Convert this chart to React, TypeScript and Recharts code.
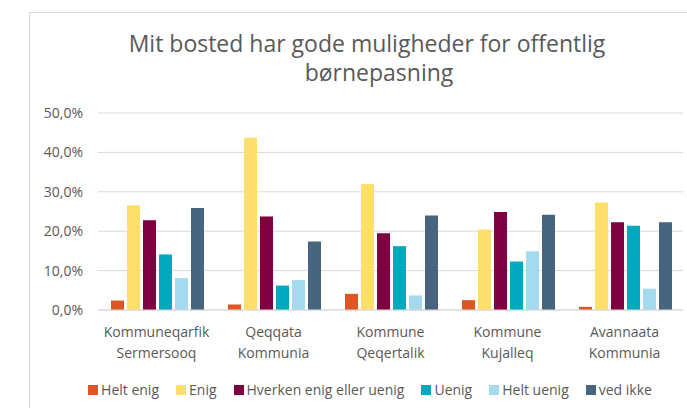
import React from 'react';
import { BarChart, Bar, XAxis, YAxis, CartesianGrid } from 'recharts';

const categories = [
  'Kommuneqarfik Sermersooq',
  'Qeqqata Kommunia',
  'Kommune Qeqertalik',
  'Kommune Kujalleq',
  'Avannaata Kommunia',
];

const heltEnig = [2.4, 1.4, 4.1, 2.5, 0.8];
const enig = [26.6, 43.7, 32.0, 20.4, 27.3];
const hverken = [22.8, 23.7, 19.5, 24.9, 22.3];
const uenig = [14.1, 6.2, 16.2, 12.3, 21.4];
const heltUenig = [8.1, 7.6, 3.7, 14.9, 5.4];
const vedIkke = [25.9, 17.4, 24.0, 24.2, 22.3];

const yTicks = [0, 10, 20, 30, 40, 50];

const SERIES = [
  { key: 'heltEnig', name: 'Helt enig', color: '#DE5623', values: heltEnig },
  { key: 'enig', name: 'Enig', color: '#FFDF6B', values: enig },
  { key: 'hverken', name: 'Hverken enig eller uenig', color: '#7F0040', values: hverken },
  { key: 'uenig', name: 'Uenig', color: '#00A9BD', values: uenig },
  { key: 'heltUenig', name: 'Helt uenig', color: '#A3DAEE', values: heltUenig },
  { key: 'vedIkke', name: 'ved ikke', color: '#47657F', values: vedIkke },
];

const data = categories.map((cat, i) => {
  const row: any = { cat };
  SERIES.forEach((s) => {
    row[s.key] = s.values[i];
  });
  return row;
});

const FONT = '"Open Sans", sans-serif';
const TEXT_COLOR = '#595959';
const GRID_COLOR = '#D9D9D9';

const fmtPct = (v: number) => `${v.toFixed(1).replace('.', ',')}%`;

// two-line category label, split at the first space
const CategoryTick = ({ x, y, payload }: any) => {
  const label: string = payload.value;
  const idx = label.indexOf(' ');
  const lines = idx > 0 ? [label.slice(0, idx), label.slice(idx + 1)] : [label];
  return (
    <text x={x} y={y} textAnchor="middle" fill={TEXT_COLOR} fontSize={14} fontFamily={FONT}>
      {lines.map((l, i) => (
        <tspan key={i} x={x} y={y + 27 + i * 21}>
          {l}
        </tspan>
      ))}
    </text>
  );
};

export default function App() {
  return (
    <div
      style={{
        position: 'absolute',
        left: 0,
        top: 0,
        width: 687,
        height: 408,
        overflow: 'hidden',
        background: '#fff',
      }}
    >
      {/* chart frame, cut by the screenshot on the right and bottom */}
      <div
        style={{
          position: 'absolute',
          left: 29,
          top: 12,
          width: 720,
          height: 420,
          borderLeft: `1px solid ${GRID_COLOR}`,
          borderTop: `1px solid ${GRID_COLOR}`,
        }}
      />

      <BarChart
        width={687}
        height={408}
        data={data}
        margin={{ top: 113, right: 4, bottom: 38, left: 0 }}
        barCategoryGap={13}
        barGap={3}
        style={{ position: 'absolute', left: 0, top: 0 }}
      >
        <CartesianGrid stroke={GRID_COLOR} vertical={false} />
        <XAxis
          dataKey="cat"
          height={60}
          tickLine={false}
          axisLine={{ stroke: GRID_COLOR }}
          tickSize={0}
          tickMargin={0}
          interval={0}
          tick={<CategoryTick />}
        />
        <YAxis
          width={98}
          domain={[0, 50]}
          ticks={yTicks}
          tickFormatter={fmtPct}
          axisLine={false}
          tickLine={false}
          tickSize={0}
          tickMargin={15}
          tick={{ fill: TEXT_COLOR, fontSize: 14, fontFamily: FONT }}
        />
        {SERIES.map((s) => (
          <Bar key={s.key} dataKey={s.key} name={s.name} fill={s.color} isAnimationActive={false} />
        ))}
      </BarChart>

      <svg
        width={687}
        height={408}
        style={{ position: 'absolute', left: 0, top: 0, pointerEvents: 'none' }}
      >
        <text x={367} y={52} textAnchor="middle" fill={TEXT_COLOR} fontSize={23} fontFamily={FONT}>
          Mit bosted har gode muligheder for offentlig
        </text>
        <text x={379} y={81} textAnchor="middle" fill={TEXT_COLOR} fontSize={23} fontFamily={FONT}>
          børnepasning
        </text>
      </svg>

      {/* Legend */}
      <div
        style={{
          position: 'absolute',
          left: 0,
          top: 380,
          width: 740,
          display: 'flex',
          justifyContent: 'center',
          gap: 17,
          fontFamily: FONT,
          fontSize: 14,
          color: TEXT_COLOR,
          lineHeight: '20px',
        }}
      >
        {SERIES.map((s) => (
          <div key={s.key} style={{ display: 'flex', alignItems: 'center', gap: 3 }}>
            <div style={{ width: 10, height: 10, background: s.color }} />
            <span style={{ whiteSpace: 'nowrap' }}>{s.name}</span>
          </div>
        ))}
      </div>
    </div>
  );
}
